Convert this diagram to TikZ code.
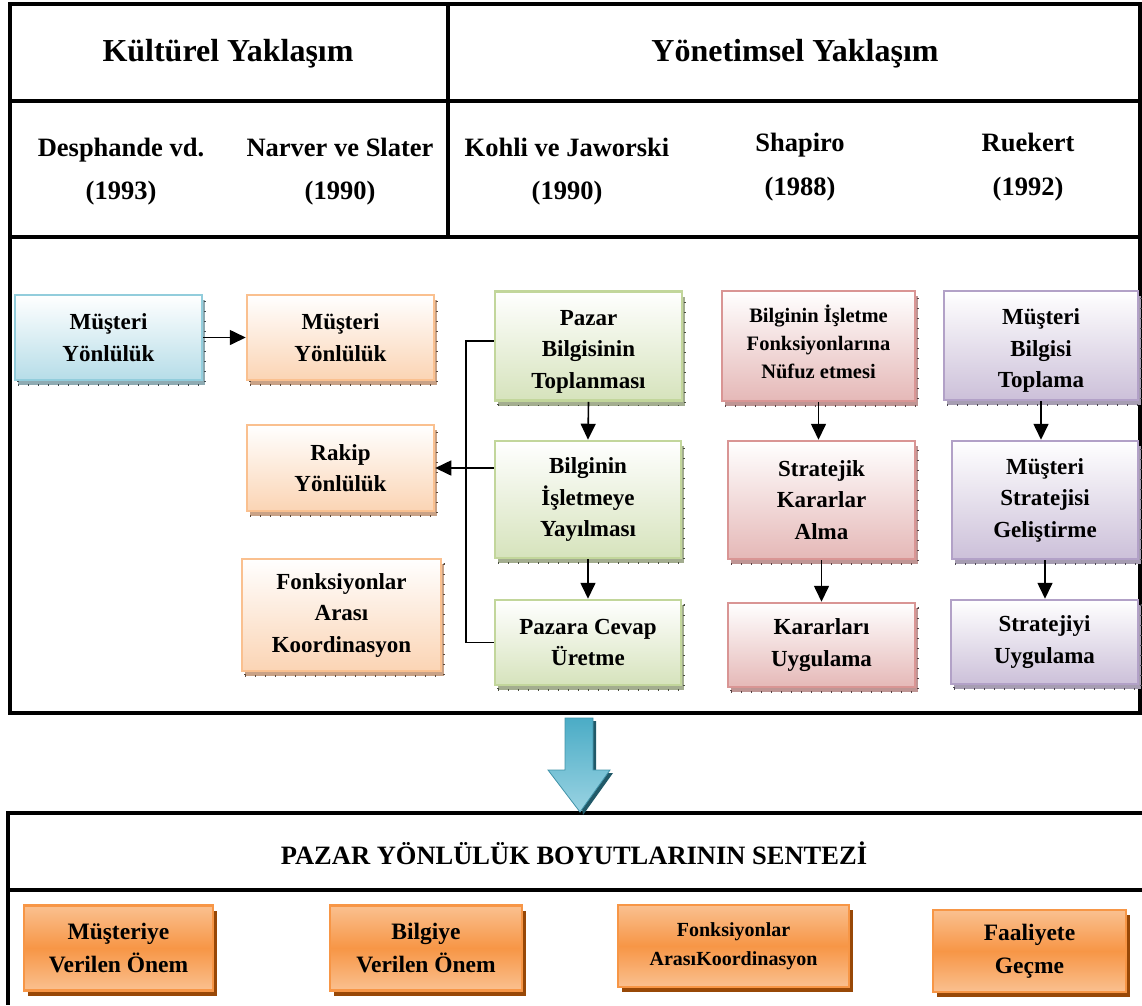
\documentclass[tikz,border=0pt]{standalone}
\usepackage{fontspec}
\setmainfont{Liberation Serif}
\usetikzlibrary{arrows.meta,shadows}

% palette
\definecolor{blueF}{HTML}{B6DDE8}
\definecolor{blueB}{HTML}{92CDDC}
\definecolor{blueS}{HTML}{8EAAB2}
\definecolor{orangeF}{HTML}{FBD4B4}
\definecolor{orangeB}{HTML}{FAC08F}
\definecolor{orangeS}{HTML}{C9A286}
\definecolor{greenF}{HTML}{D6E3BC}
\definecolor{greenB}{HTML}{C2D69B}
\definecolor{greenS}{HTML}{A3AD8F}
\definecolor{redF}{HTML}{E5B8B7}
\definecolor{redB}{HTML}{D99594}
\definecolor{redS}{HTML}{BF9594}
\definecolor{purpleF}{HTML}{CCC0D9}
\definecolor{purpleB}{HTML}{B2A1C7}
\definecolor{purpleS}{HTML}{A69DB2}
\definecolor{deepOrange}{HTML}{F79646}
\definecolor{lightOrange}{HTML}{FAC090}
\definecolor{brownShadow}{HTML}{984807}
\definecolor{aqua}{HTML}{4BACC6}
\definecolor{aquaLight}{HTML}{9AD3E2}
\definecolor{aquaDark}{HTML}{215968}

% invisible struts that nudge multi-line text inside its box
\newcommand\lift[1]{\rule[-#1pt]{0pt}{0pt}}
\newcommand\drop[1]{\rule{0pt}{#1pt}}

\tikzset{
  frame/.style={line width=4pt, black},
  hdrA/.style={font=\fontsize{32}{38}\selectfont\bfseries},
  hdrB/.style={font=\fontsize{26.5}{32}\selectfont\bfseries},
  boxbase/.style={rectangle, align=center, inner sep=0pt, line width=2.5pt,
    font=\fontsize{23}{31.5}\selectfont\bfseries},
  tint/.style n args={3}{draw=#1, top color=white, bottom color=#2,
    general shadow={fill=#3, shadow xshift=3pt, shadow yshift=-5pt},
    general shadow={draw=#3!45!black, line width=1.6pt, dash pattern=on 1pt off 9pt,
      shadow xshift=3pt, shadow yshift=-5pt}},
  bluebox/.style={boxbase, tint={blueB}{blueF}{blueS}},
  orangebox/.style={boxbase, tint={orangeB}{orangeF}{orangeS}},
  greenbox/.style={boxbase, tint={greenB}{greenF}{greenS}},
  redbox/.style={boxbase, tint={redB}{redF}{redS}},
  purplebox/.style={boxbase, tint={purpleB}{purpleF}{purpleS}},
  synth/.style={rectangle, align=center, inner sep=0pt, line width=2.5pt,
    draw=deepOrange, top color=lightOrange, bottom color=lightOrange, middle color=deepOrange,
    general shadow={fill=brownShadow, shadow xshift=4pt, shadow yshift=-5pt},
    font=\fontsize{23.5}{33}\selectfont\bfseries},
  link/.style={line width=1.6pt, black},
  arr/.style={link, -{Triangle[length=16pt,width=15pt]}},
}

\begin{document}
\begin{tikzpicture}[x=1pt,y=-1pt]
\useasboundingbox (0,0) rectangle (1142,1005);

% upper frame and table rules
\draw[frame] (10,4) rectangle (1140,713);
\draw[frame] (10,101) -- (1140,101);
\draw[frame] (10,237) -- (1140,237);
\draw[frame] (448,4) -- (448,237);

% lower frame
\draw[frame] (1142,813) -- (8,813) -- (8,1005);
\draw[frame] (8,890) -- (1142,890);

% approach headings
\node[hdrA, anchor=base] (kultur) at (228,61) {Kültürel Yaklaşım};
\node[hdrA, anchor=base] (yonetim) at (795,61) {Yönetimsel Yaklaşım};

% authors
\node[hdrB, anchor=base] (desh) at (121,156) {Desphande vd.};
\node[hdrB, anchor=base] (deshY) at (121,199) {(1993)};
\node[hdrB, anchor=base] (narv) at (340,156) {Narver ve Slater};
\node[hdrB, anchor=base] (narvY) at (340,199) {(1990)};
\node[hdrB, anchor=base] (kohli) at (567,156) {Kohli ve Jaworski};
\node[hdrB, anchor=base] (kohliY) at (567,199) {(1990)};
\node[hdrB, anchor=base] (shap) at (800,151) {Shapiro};
\node[hdrB, anchor=base] (shapY) at (800,195) {(1988)};
\node[hdrB, anchor=base] (ruek) at (1028,151) {Ruekert};
\node[hdrB, anchor=base] (ruekY) at (1028,195) {(1992)};

% Desphande
\node[bluebox, minimum width=187pt, minimum height=85pt] (b1) at (108.5,337.5) {Müşteri\\Yönlülük};

% Narver & Slater
\node[orangebox, minimum width=187pt, minimum height=85pt] (o1) at (340.5,337.5) {Müşteri\\Yönlülük};
\node[orangebox, minimum width=187pt, minimum height=86pt] (o2) at (340.5,468) {Rakip\\Yönlülük};
\node[orangebox, minimum width=199pt, minimum height=112pt] (o3) at (341.5,615) {Fonksiyonlar\\Arası\\Koordinasyon};

% Kohli & Jaworski
\node[greenbox, minimum width=187pt, minimum height=109pt] (g1) at (588.5,346) {\drop{26}Pazar\\Bilgisinin\\Toplanması};
\node[greenbox, minimum width=186pt, minimum height=117pt] (g2) at (588,499.5) {Bilginin\\İşletmeye\\Yayılması};
\node[greenbox, minimum width=186pt, minimum height=85pt] (g3) at (588,642.5) {Pazara Cevap\\Üretme};

% Shapiro
\node[redbox, minimum width=193pt, minimum height=110pt, font=\fontsize{20.5}{28}\selectfont\bfseries] (r1) at (818.5,346) {Bilginin İşletme\\Fonksiyonlarına\\Nüfuz etmesi\lift{8}};
\node[redbox, minimum width=187pt, minimum height=118pt] (r2) at (821.5,500) {Stratejik\\Kararlar\\Alma};
\node[redbox, minimum width=187pt, minimum height=84pt] (r3) at (821.5,645) {Kararları\\Uygulama};

% Ruekert
\node[purplebox, minimum width=194pt, minimum height=109pt] (p1) at (1041,345.5) {\drop{26}Müşteri\\Bilgisi\\Toplama};
\node[purplebox, minimum width=186pt, minimum height=118pt] (p2) at (1045,500) {Müşteri\\Stratejisi\\Geliştirme};
\node[purplebox, minimum width=187pt, minimum height=84pt] (p3) at (1044.5,642) {Stratejiyi\\Uygulama};

% connectors
\draw[arr] (b1.east) -- (o1.west);
\draw[arr] (g1.south) -- (g2.north);
\draw[arr] (g2.south) -- (g3.north);
\draw[arr] (r1.south) -- (r1.south |- r2.north);
\draw[arr] (r2.south) -- (r2.south |- r3.north);
\draw[arr] (p1.south) -- (p1.south |- p2.north);
\draw[arr] (p2.south) -- (p2.south |- p3.north);
\coordinate (bus) at (466,341);
\draw[link] (g1.west |- bus) -- (bus) |- (g3.west);
\draw[arr] (g2.west |- o2.east) -- (o2.east);

% big downward arrow
\fill[aquaDark] (568,721) -- (596,721) -- (596,773) -- (613,773) -- (583,815) -- cycle;
\shade[top color=aqua, bottom color=aquaLight, draw=aqua!85!black, line width=0.8pt]
  (565,718) -- (593,718) -- (593,770) -- (610,770) -- (580,812) -- (548,770) -- (565,770) -- cycle;

% synthesis
\node[hdrB, anchor=base] (synthT) at (574,864) {PAZAR YÖNLÜLÜK BOYUTLARININ SENTEZİ};
\node[synth, minimum width=189pt, minimum height=85pt] (s1) at (118.5,948) {Müşteriye\\Verilen Önem};
\node[synth, minimum width=192pt, minimum height=85pt] (s2) at (426,948) {Bilgiye\\Verilen Önem};
\node[synth, minimum width=231pt, minimum height=82pt, font=\fontsize{20}{29}\selectfont\bfseries] (s3) at (733.5,946) {Fonksiyonlar\\ArasıKoordinasyon};
\node[synth, minimum width=193pt, minimum height=82pt] (s4) at (1029.5,951) {Faaliyete\\Geçme};
\end{tikzpicture}
\end{document}
